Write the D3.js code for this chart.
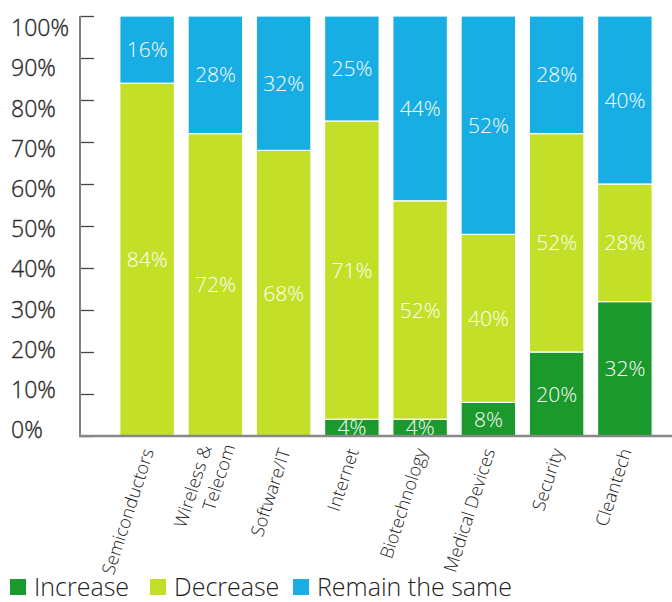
<!DOCTYPE html>
<html>
<head>
<meta charset="utf-8">
<script src="https://cdn.jsdelivr.net/npm/d3@7/dist/d3.min.js"></script>
<style>
  html, body { margin: 0; padding: 0; background: #fff; }
  svg { display: block; font-family: "Open Sans", Lato, sans-serif; }
</style>
</head>
<body>
<svg id="chart" width="672" height="602"></svg>
<script>
// Survey sectors and the share of answers in each group (percent)
const categories = ["Semiconductors", "Wireless & Telecom", "Software/IT", "Internet",
                    "Biotechnology", "Medical Devices", "Security", "Cleantech"];
const increase = [0, 0, 0, 4, 4, 8, 20, 32];
const decrease = [84, 72, 68, 71, 52, 40, 52, 28];
const remain   = [16, 28, 32, 25, 44, 52, 28, 40];
const seriesNames = ["Increase", "Decrease", "Remain the same"];
const yTicks = [0, 10, 20, 30, 40, 50, 60, 70, 80, 90, 100];
const categoryLines = {
  "Wireless & Telecom": ["Wireless &", "Telecom"]
};

const colors = {
  "Increase": "#1b992c",
  "Decrease": "#c4df27",
  "Remain the same": "#18ade3"
};

const rows = categories.map((c, i) => ({
  category: c,
  "Increase": increase[i],
  "Decrease": decrease[i],
  "Remain the same": remain[i]
}));

const svg = d3.select("#chart");

const x = d3.scaleBand()
  .domain(categories)
  .range([113, 659])
  .paddingInner(0.2)
  .paddingOuter(0.1);

const y = d3.scaleLinear().domain([0, 100]).range([436, 16]);
// tick labels sit on a slightly tighter ladder than the tick marks
const yLabel = d3.scaleLinear().domain([0, 100]).range([430, 28]);

const stack = d3.stack().keys(seriesNames);
const layers = stack(rows);

// stacked bars
const layerG = svg.append("g")
  .selectAll("g")
  .data(layers)
  .join("g")
  .attr("fill", d => colors[d.key]);

layerG.selectAll("rect")
  .data(d => d.filter(s => s[1] - s[0] > 0))
  .join("rect")
  .attr("x", d => x(d.data.category))
  .attr("width", x.bandwidth())
  .attr("y", d => y(d[1]))
  .attr("height", d => y(d[0]) - y(d[1]))
  .attr("stroke", "#fff")
  .attr("stroke-width", 1.2);

// value labels inside segments
layerG.selectAll("text")
  .data(d => d.filter(s => s[1] - s[0] > 0))
  .join("text")
  .attr("x", d => x(d.data.category) + x.bandwidth() / 2)
  .attr("y", d => (y(d[0]) + y(d[1])) / 2)
  .attr("dy", "0.36em")
  .attr("text-anchor", "middle")
  .attr("fill", "#fff")
  .attr("font-size", 21)
  .attr("font-weight", 300)
  .text(d => (d[1] - d[0]) + "%");

// y axis: grey spine with inward ticks
const yAxis = d3.axisRight(y).tickValues(yTicks).tickSize(14).tickFormat("");
const yg = svg.append("g").attr("transform", "translate(80,0)").call(yAxis);
yg.select(".domain").remove();
yg.selectAll(".tick line").attr("stroke", "#444").attr("stroke-width", 1.3);
svg.append("line")
  .attr("x1", 80).attr("x2", 80)
  .attr("y1", y(100)).attr("y2", y(0) + 1)
  .attr("stroke", "#808080").attr("stroke-width", 2);

// y tick labels
svg.append("g")
  .selectAll("text")
  .data(yTicks)
  .join("text")
  .attr("x", 11)
  .attr("y", d => yLabel(d))
  .attr("dy", "0.36em")
  .attr("fill", "#2a2a2a")
  .attr("font-size", 23)
  .attr("font-weight", 300)
  .attr("stroke", "#2a2a2a")
  .attr("stroke-width", 0.35)
  .text(d => d + "%");

// baseline
svg.append("line")
  .attr("x1", 79).attr("x2", 672)
  .attr("y1", y(0)).attr("y2", y(0))
  .attr("stroke", "#888").attr("stroke-width", 2.5);

// category labels, tilted
const catG = svg.append("g")
  .selectAll("g")
  .data(categories)
  .join("g")
  .attr("transform", d => `translate(${x(d) + x.bandwidth() / 2 + 1},449) rotate(-72)`);

catG.each(function (d) {
  const lines = categoryLines[d] || [d];
  const t = d3.select(this).append("text")
    .attr("text-anchor", "end")
    .attr("fill", "#222")
    .attr("font-size", 18)
    .attr("font-weight", 300);
  const n = lines.length;
  lines.forEach((ln, i) => {
    t.append("tspan")
      .attr("x", i * 8)
      .attr("y", (i - (n - 1)) * 22 + (n - 1) * 11)
      .attr("dy", "0.35em")
      .text(ln);
  });
});

// legend
const legendX = [10, 150, 293];
const lg = svg.append("g")
  .selectAll("g")
  .data(seriesNames)
  .join("g")
  .attr("transform", (d, i) => `translate(${legendX[i]},579)`);
lg.append("rect")
  .attr("width", 16).attr("height", 16)
  .attr("fill", d => colors[d]);
lg.append("text")
  .attr("x", 24).attr("y", 16.5)
  .attr("fill", "#222")
  .attr("font-size", 25)
  .attr("font-weight", 300)
  .text(d => d);
</script>
</body>
</html>
